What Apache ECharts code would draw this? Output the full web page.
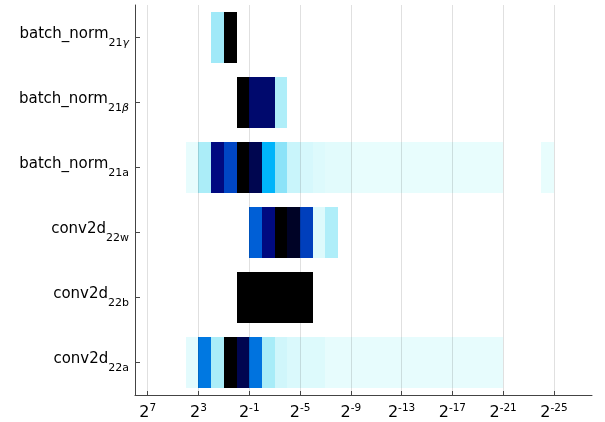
<!DOCTYPE html>
<html><head><meta charset="utf-8">
<script src="https://cdn.jsdelivr.net/npm/echarts@6/dist/echarts.min.js"></script>
<style>html,body{margin:0;padding:0;background:#fff}#c{width:605px;height:422px}</style>
</head><body><div id="c"></div>
<script>
// rows, bottom to top
const rowNames = ['conv2d', 'conv2d', 'conv2d', 'batch_norm', 'batch_norm', 'batch_norm'];
const rowSubs = ['22a', '22b', '22w', '21a', '21β', '21γ'];
// upper exponent of each bin: bin spans 2^e .. 2^(e-1)
const binExponents = [4, 3, 2, 1, 0, -1, -2, -3, -4, -5, -6, -7, -8, -9, -10, -11, -12, -13, -14, -15, -16, -17, -18, -19, -20, -21, -22, -23, -24];
const conv2d_22a = [0.02, 0.52, 0.19, 1.0, 0.875, 0.53, 0.2, 0.08, 0.05, 0.04, 0.04, 0.01, 0.01, 0.01, 0.01, 0.01, 0.01, 0.01, 0.01, 0.01, 0.01, 0.01, 0.01, 0.01, 0.01, null, null, null, null];
const conv2d_22b = [null, null, null, null, 1.0, 1.0, 1.0, 1.0, 1.0, 1.0, null, null, null, null, null, null, null, null, null, null, null, null, null, null, null, null, null, null, null];
const conv2d_22w = [null, null, null, null, null, 0.57, 0.8, 1.0, 0.94, 0.65, 0.04, 0.18, null, null, null, null, null, null, null, null, null, null, null, null, null, null, null, null, null];
const batch_norm_21a = [0.01, 0.19, 0.8, 0.63, 1.0, 0.875, 0.4, 0.233, 0.1, 0.06, 0.04, 0.025, 0.025, 0.005, 0.005, 0.005, 0.005, 0.005, 0.005, 0.005, 0.005, 0.005, 0.005, 0.005, 0.005, null, null, null, 0.005];
const batch_norm_21beta = [null, null, null, null, 1.0, 0.83, 0.83, 0.18, null, null, null, null, null, null, null, null, null, null, null, null, null, null, null, null, null, null, null, null, null];
const batch_norm_21gamma = [null, null, 0.21, 1.0, null, null, null, null, null, null, null, null, null, null, null, null, null, null, null, null, null, null, null, null, null, null, null, null, null];
const tickExponents = [7, 3, -1, -5, -9, -13, -17, -21, -25];

const rowValues = [conv2d_22a, conv2d_22b, conv2d_22w, batch_norm_21a, batch_norm_21beta, batch_norm_21gamma];
const categories = rowNames.map((n, i) => n + '_' + rowSubs[i]);
const data = [];
rowValues.forEach((vals, r) => {
  vals.forEach((v, i) => { if (v !== null) data.push([binExponents[i], r, v]); });
});

const FONT = 'DejaVu Sans';
const chart = echarts.init(document.getElementById('c'), null, {renderer: 'canvas'});
chart.setOption({
  backgroundColor: '#fff',
  animation: false,
  grid: {left: 135, right: 13, top: 5, bottom: 27, containLabel: false},
  xAxis: {
    type: 'value', min: -28, max: 8, inverse: true, z: 5,
    axisLine: {show: true, onZero: false, lineStyle: {color: '#444', width: 1}},
    axisTick: {show: true, inside: true, length: 4, customValues: tickExponents, lineStyle: {color: '#444'}},
    splitLine: {show: true, lineStyle: {color: 'rgba(0,0,0,0.12)', width: 1}},
    axisLabel: {
      customValues: tickExponents, margin: 8, color: '#000', fontFamily: FONT,
      formatter: v => '{b|2}{s|' + v + '}',
      rich: {
        b: {fontSize: 16, fontFamily: FONT, color: '#000', padding: [2, 0, 0, 0]},
        s: {fontSize: 10.5, fontFamily: FONT, color: '#000', padding: [0, 0, 7, 0]}
      }
    }
  },
  yAxis: {
    type: 'category', data: categories, z: 5,
    axisLine: {show: true, onZero: false, lineStyle: {color: '#444', width: 1}},
    axisTick: {show: true, inside: true, length: 5, alignWithLabel: true, lineStyle: {color: '#444'}},
    splitLine: {show: false},
    axisLabel: {
      margin: 6, color: '#000', fontFamily: FONT,
      formatter: (v, i) => {
        const sub = rowSubs[i];
        const m = sub.match(/^(\d+)([a-z]*)(.*)$/);
        let s = '{m|' + rowNames[i] + '}{s|' + m[1] + m[2] + '}';
        if (m[3]) s += '{si|' + m[3] + '}';
        return s;
      },
      rich: {
        m: {fontSize: 15, fontFamily: FONT, color: '#000', padding: [0, 0, 6, 0]},
        s: {fontSize: 11, fontFamily: FONT, color: '#000', padding: [12, 0, 0, 0]},
        si: {fontSize: 11, fontFamily: FONT, fontStyle: 'italic', color: '#000', padding: [12, 0, 0, 0]}
      }
    }
  },
  visualMap: {
    show: false, dimension: 2, min: 0, max: 1, seriesIndex: 0,
    inRange: {color: ['#EAFDFD', '#A8ECF8', '#00B4FA', '#0050D0', '#000A80', '#000000']}
  },
  series: [{
    type: 'custom', z: 2,
    encode: {x: 0, y: 1},
    data: data,
    renderItem: (params, api) => {
      const e = api.value(0), r = api.value(1);
      const p1 = api.coord([e, r]);
      const p2 = api.coord([e - 1, r]);
      const h = api.size([0, 1])[1] * 0.785;
      const x0 = Math.round(Math.min(p1[0], p2[0]));
      const x1 = Math.round(Math.max(p1[0], p2[0]));
      const y0 = Math.round(p1[1] - h / 2);
      const y1 = Math.round(p1[1] + h / 2);
      return {
        type: 'rect',
        shape: {x: x0, y: y0, width: x1 - x0, height: y1 - y0},
        style: {fill: api.visual('color'), stroke: null}
      };
    }
  }]
});
</script></body></html>
